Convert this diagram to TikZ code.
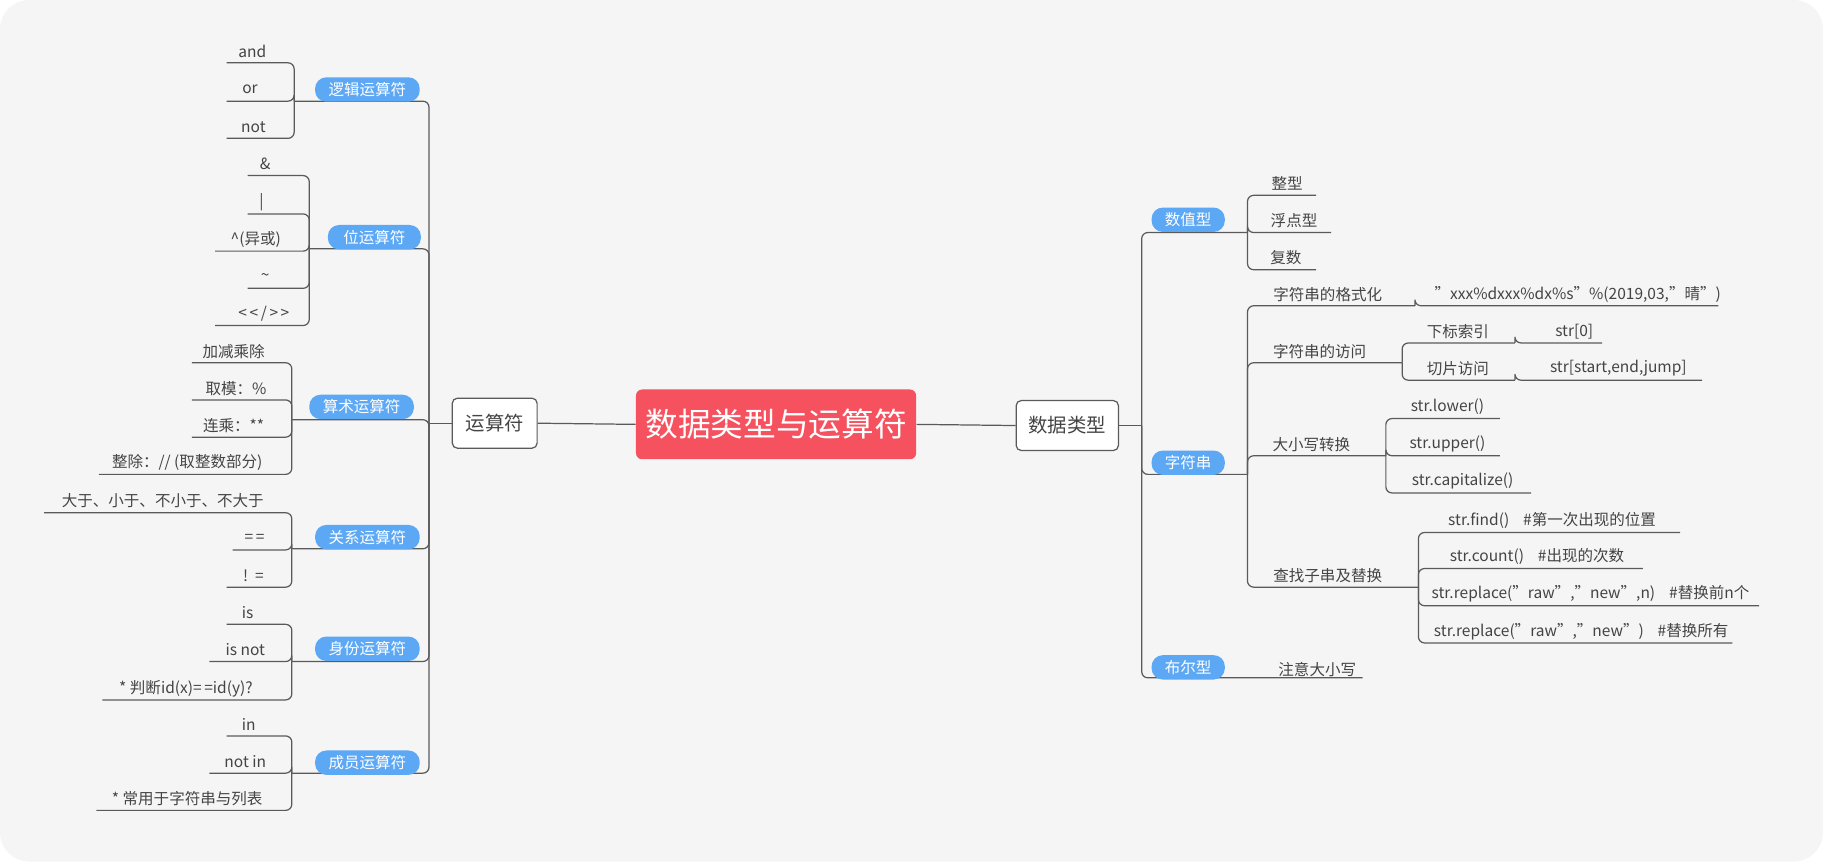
\documentclass[tikz,border=0pt]{standalone}
\usepackage{fontspec}
\setmainfont{Noto Sans CJK SC}
\definecolor{bg}{HTML}{F5F5F5}
\definecolor{ln}{HTML}{5A5A5A}
\definecolor{tx}{HTML}{444444}
\definecolor{pillc}{HTML}{5DA8F5}
\definecolor{redc}{HTML}{F5515F}
\tikzset{
  conn/.style={draw=ln,line width=0.6pt,rounded corners=3pt},
  leaf/.style={text=tx,font=\fontsize{7.6}{9}\selectfont,inner sep=1pt},
  pill/.style={fill=pillc,text=white,rounded corners=5.5pt,minimum height=0.42cm,minimum width=1.8cm,inner sep=1pt,font=\fontsize{7.6}{9}\selectfont},
  box/.style={draw=ln,fill=white,rounded corners=2.5pt,line width=0.6pt,text=tx,font=\fontsize{9.5}{11}\selectfont,minimum height=0.86cm},
}
\newcommand{\lf}[6]{% name, vx, vy(junction y), textx, uly, leftx/rightx ; text in #6? 
}
% \lch{name}{junction x}{junction y}{child end x}{underline y}{text x}{text}
\newcommand{\lch}[7]{%
  \coordinate (#1e) at (#4,#5);
  \draw[conn] (#2,#3) -- (#2,#5) -- (#1e);
  \node[leaf] (#1) at (#6,#5-10) {#7};
}
\begin{document}
\begin{tikzpicture}[x=0.02cm,y=-0.02cm]
\fill[bg,rounded corners=0.5cm] (0,0) rectangle (1568,741);
\useasboundingbox (0,0) rectangle (1568,741);
% main nodes
\node[fill=redc,text=white,rounded corners=3pt,minimum width=4.82cm,minimum height=1.2cm,font=\fontsize{16}{18}\selectfont] (root) at (667.5,365) {数据类型与运算符};
\node[box,minimum width=1.46cm] (ops) at (425.5,364) {运算符};
\node[box,minimum width=1.76cm] (dt) at (918,366) {数据类型};
\draw[conn] (root.west) -- (ops.east);
\draw[conn] (root.east) -- (dt.east -| dt.west);
\coordinate (opj) at (369,364);
\draw[conn] (ops.west) -- (opj);
\coordinate (dtj) at (982,366);
\draw[conn] (dt.east) -- (dtj);
% ---------- left categories
\foreach \n/\y/\vx in {c1/87/253,c2/214/266,c3/361/251,c4/472/251,c5/569/251,c6/665/251}{
  \coordinate (\n j) at (\vx,\y);
  \draw[conn] (opj) -- (369,\y) -- (\n j);
}
% logic
\lch{a1}{253}{87}{195}{54}{217}{and}
\lch{a2}{253}{87}{195}{87}{215}{or}
\lch{a3}{253}{87}{195}{119}{218}{not}
% bit
\lch{b1}{266}{214}{213}{151}{228}{\&}
\lch{b2}{266}{214}{213}{184}{225}{|}
\lch{b3}{266}{214}{185}{216}{220}{\textasciicircum(异或)}
\lch{b4}{266}{214}{213}{248}{228}{\textasciitilde}
\lch{b5}{266}{214}{185}{280}{227}{<\,<\,/\,>\,>}
% arith
\lch{d1}{251}{361}{165}{312}{201}{加减乘除}
\lch{d2}{251}{361}{165}{344}{203}{取模：\%}
\lch{d3}{251}{361}{165}{376}{201}{连乘：**}
\lch{d4}{251}{361}{85}{408}{161}{整除：// (取整数部分)}
% relation
\lch{e1}{251}{472}{38}{441}{140}{大于、小于、不小于、不大于}
\lch{e2}{251}{472}{200}{473}{219}{=\,=}
\lch{e3}{251}{472}{195}{505}{218}{!\ \ =}
% identity
\lch{f1}{251}{569}{195}{537}{213}{is}
\lch{f2}{251}{569}{180}{569}{211}{is not}
\lch{f3}{251}{569}{88}{602}{160}{* 判断id(x)=\,=id(y)?}
% member
\lch{g1}{251}{665}{195}{633}{214}{in}
\lch{g2}{251}{665}{180}{665}{211}{not in}
\lch{g3}{251}{665}{83}{697}{161}{* 常用于字符串与列表}
% pills left
\node[pill] (p1) at (316,77) {逻辑运算符};
\node[pill,minimum width=1.6cm] (p2) at (322,204) {位运算符};
\node[pill] (p3) at (311,350) {算术运算符};
\node[pill] (p4) at (316,462) {关系运算符};
\node[pill] (p5) at (316,558) {身份运算符};
\node[pill] (p6) at (316,656) {成员运算符};
% ---------- right side
\foreach \n/\y/\ex in {r1/200/1073,r2/408/1073,r3/583/1172}{
  \coordinate (\n j) at (\ex,\y);
  \draw[conn] (dtj) -- (982,\y) -- (\n j);
}
\lch{s1}{1073}{200}{1132}{168}{1107}{整型}
\lch{s2}{1073}{200}{1145}{200}{1113}{浮点型}
\lch{s3}{1073}{200}{1132}{232}{1106}{复数}
% strings
\lch{t1}{1073}{408}{1217}{263}{1142}{字符串的格式化}
\lch{t2}{1073}{408}{1206}{312}{1135}{字符串的访问}
\lch{t3}{1073}{408}{1192}{392}{1128}{大小写转换}
\lch{t4}{1073}{408}{1220}{505}{1142}{查找子串及替换}
\lch{u1}{1217}{263}{1478}{263}{1357}{"xxx\%dxxx\%dx\%s"\%(2019,03,"晴")}
\lch{v1}{1206}{312}{1303}{295}{1254}{下标索引}
\lch{v2}{1206}{312}{1303}{327}{1254}{切片访问}
\lch{w1}{1303}{295}{1378}{295}{1354}{str[0]}
\lch{w2}{1303}{327}{1464}{327}{1392}{str[start,end,jump]}
\lch{x1}{1192}{392}{1290}{360}{1245}{str.lower()}
\lch{x2}{1192}{392}{1290}{392}{1245}{str.upper()}
\lch{x3}{1192}{392}{1317}{424}{1258}{str.capitalize()}
\lch{y1}{1220}{505}{1445}{458}{1335}{str.find()\ \ \ \ \#第一次出现的位置}
\lch{y2}{1220}{505}{1413}{489}{1322}{str.count()\ \ \ \ \#出现的次数}
\lch{y3}{1220}{505}{1513}{521}{1368}{str.replace("raw","new",n)\ \ \ \ \#替换前n个}
\lch{y4}{1220}{505}{1490}{553}{1360}{str.replace("raw","new")\ \ \ \ \#替换所有}
\node[leaf] (z1) at (1133,576) {注意大小写};
% pills right
\node[pill,minimum width=1.26cm] (q1) at (1022,189) {数值型};
\node[pill,minimum width=1.26cm] (q2) at (1022,398) {字符串};
\node[pill,minimum width=1.26cm] (q3) at (1022,574) {布尔型};
\end{tikzpicture}
\end{document}
